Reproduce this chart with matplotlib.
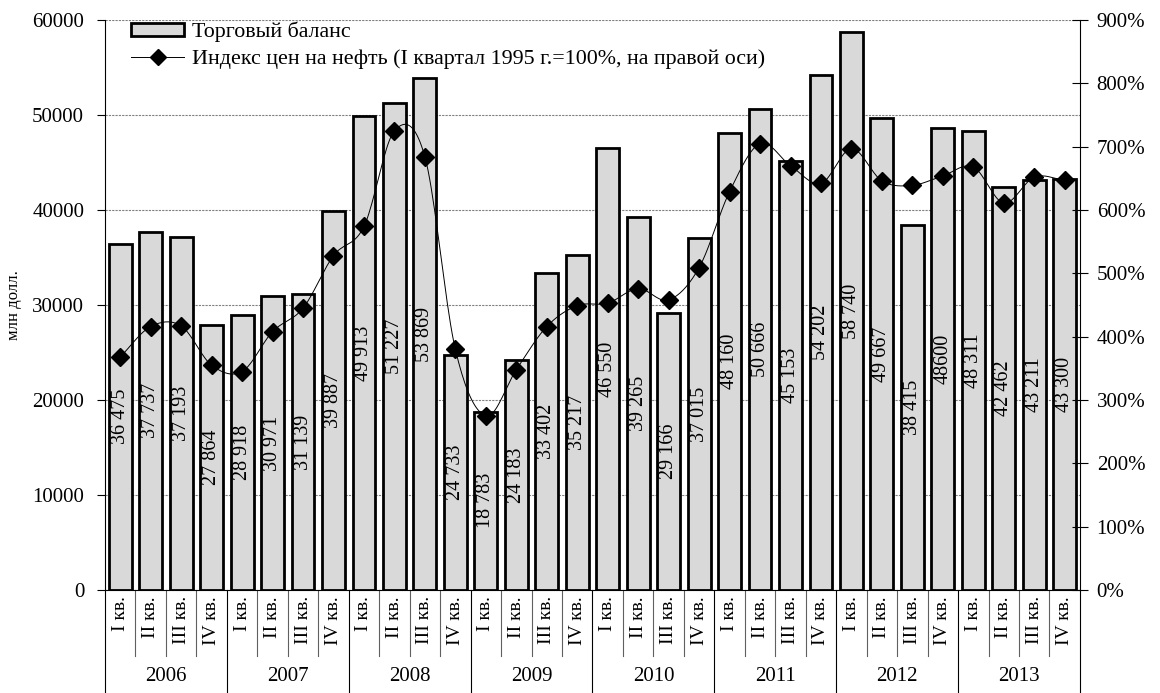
import numpy as np
import matplotlib
matplotlib.use("Agg")
import matplotlib.pyplot as plt
import matplotlib.transforms as mtransforms
from matplotlib.lines import Line2D
from matplotlib.patches import Patch

plt.rcParams['font.family'] = ['Liberation Serif', 'DejaVu Serif']

years = ['2006', '2007', '2008', '2009', '2010', '2011', '2012', '2013']
quarters = ['I кв.', 'II кв.', 'III кв.', 'IV кв.']

balance = [36475, 37737, 37193, 27864,
           28918, 30971, 31139, 39887,
           49913, 51227, 53869, 24733,
           18783, 24183, 33402, 35217,
           46550, 39265, 29166, 37015,
           48160, 50666, 45153, 54202,
           58740, 49667, 38415, 48600,
           48311, 42462, 43211, 43300]

balance_labels = ['36 475', '37 737', '37 193', '27 864',
                  '28 918', '30 971', '31 139', '39 887',
                  '49 913', '51 227', '53 869', '24 733',
                  '18 783', '24 183', '33 402', '35 217',
                  '46 550', '39 265', '29 166', '37 015',
                  '48 160', '50 666', '45 153', '54 202',
                  '58 740', '49 667', '38 415', '48600',
                  '48 311', '42 462', '43 211', '43 300']

oil_index = [368, 416, 417, 355,
             345, 408, 445, 528,
             574, 725, 684, 380,
             275, 348, 416, 449,
             453, 476, 458, 509,
             629, 705, 670, 642,
             697, 646, 639, 654,
             668, 611, 652, 647]


def smooth(xs, ys, n=20):
    # catmull-rom curve through the points, like excel's smoothed line
    px = np.concatenate([[2 * xs[0] - xs[1]], xs, [2 * xs[-1] - xs[-2]]])
    py = np.concatenate([[2 * ys[0] - ys[1]], ys, [2 * ys[-1] - ys[-2]]])
    outx, outy = [], []
    t = np.linspace(0, 1, n)
    for i in range(1, len(px) - 2):
        for p, out in ((px, outx), (py, outy)):
            p0, p1, p2, p3 = p[i - 1], p[i], p[i + 1], p[i + 2]
            out.extend(0.5 * (2 * p1 + (-p0 + p2) * t
                              + (2 * p0 - 5 * p1 + 4 * p2 - p3) * t ** 2
                              + (-p0 + 3 * p1 - 3 * p2 + p3) * t ** 3))
    return outx, outy


fig = plt.figure(figsize=(11.6, 6.93), dpi=100)
ax = fig.add_axes([0.0905, 0.1486, 0.8405, 0.8225])
x = np.arange(len(balance))

ax.set_axisbelow(True)
ax.yaxis.grid(True, linestyle=(0, (2, 1)), color='#808080', linewidth=0.8)
ax.bar(x, balance, width=0.75, color='#d9d9d9', edgecolor='black', linewidth=2, zorder=2)
for xi, v, lab in zip(x, balance, balance_labels):
    ax.text(xi, v / 2, lab, rotation=90, ha='center', va='center', fontsize=14.5, zorder=3)

ax.set_xlim(-0.5, len(balance) - 0.5)
ax.set_ylim(0, 60000)
ax.set_yticks(range(0, 60001, 10000))
ax.tick_params(axis='y', labelsize=15, length=6, direction='out', pad=9)
ax.set_xticks([])
ax.spines['top'].set_visible(False)
ax.spines['right'].set_visible(False)
ax.set_ylabel('млн долл.', fontsize=12)
ax.yaxis.set_label_coords(-0.085, 0.5)

ax2 = ax.twinx()
ax2.set_ylim(0, 900)
ax2.set_yticks(range(0, 901, 100))
ax2.set_yticklabels([f'{v}%' for v in range(0, 901, 100)])
ax2.tick_params(axis='y', labelsize=15, length=12, direction='inout', pad=6)
for s in ['top', 'left', 'bottom']:
    ax2.spines[s].set_visible(False)
sx, sy = smooth(x, np.array(oil_index, dtype=float))
ax2.plot(sx, sy, color='black', linewidth=0.7, zorder=4)
ax2.plot(x, oil_index, linestyle='none', marker='D', markersize=9.5, color='black', zorder=5)

# category axis: quarters and years
trans = mtransforms.blended_transform_factory(ax.transData, ax.transAxes)
for i in range(len(balance)):
    ax.text(i, -0.011, quarters[i % 4], rotation=90, ha='center', va='top',
            fontsize=14, transform=trans)
for i in range(len(balance) + 1):
    if i % 4 == 0:
        ax.plot([i - 0.5, i - 0.5], [0, -0.185], color='black', linewidth=0.8,
                transform=trans, clip_on=False)
    else:
        ax.plot([i - 0.5, i - 0.5], [0, -0.115], color='#606060', linewidth=0.8,
                transform=trans, clip_on=False)
for k, yr in enumerate(years):
    ax.text(4 * k + 1.5, -0.151, yr, ha='center', va='center', fontsize=15, transform=trans)

handles = [Patch(facecolor='#d9d9d9', edgecolor='black', linewidth=2),
           Line2D([], [], color='black', linewidth=0.7, marker='D', markersize=8)]
labels = ['Торговый баланс', 'Индекс цен на нефть (I квартал 1995 г.=100%, на правой оси)']
ax2.legend(handles, labels, loc='upper left', bbox_to_anchor=(0.018, 1.012), frameon=False,
           fontsize=15.8, handlelength=2.4, handleheight=0.55, handletextpad=0.35,
           borderaxespad=0, labelspacing=0.3)

fig.savefig('out.png', dpi=100)
